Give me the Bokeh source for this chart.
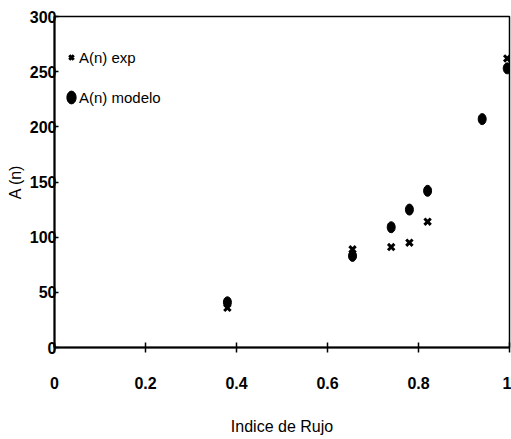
from bokeh.plotting import figure
from bokeh.models import ColumnDataSource, Range1d, FixedTicker, Legend, LegendItem
from bokeh.embed import file_html
from bokeh.resources import INLINE

# Flow index and A(n): experimental vs. model
exp_index = [0.38, 0.655, 0.74, 0.78, 0.82, 0.995]
a_exp = [36, 89, 91, 95, 114, 262]

model_index = [0.38, 0.655, 0.74, 0.78, 0.82, 0.94, 0.995]
a_model = [41, 83, 109, 125, 142, 207, 253]

x_ticks = [0, 0.2, 0.4, 0.6, 0.8, 1]
x_tick_labels = ["0", "0.2", "0.4", "0.6", "0.8", "1"]
y_ticks = [0, 50, 100, 150, 200, 250, 300]

FONT = "Liberation Sans"

p = figure(width=511, height=439, output_backend="svg", toolbar_location=None,
           x_range=Range1d(0, 1), y_range=Range1d(0, 300),
           min_border_left=54, min_border_right=2, min_border_top=16,
           min_border_bottom=92, background_fill_color="white",
           border_fill_color="white")
p.grid.visible = False
p.outline_line_color = "black"
p.outline_line_width = 1.5

exp_src = ColumnDataSource(dict(x=exp_index, y=a_exp))
mod_src = ColumnDataSource(dict(x=model_index, y=a_model))

r_exp = p.scatter("x", "y", source=exp_src, marker="x", size=9,
                  line_color="black", line_width=3)
r_mod = p.ellipse("x", "y", source=mod_src, width=8, height=11,
                  width_units="screen", height_units="screen",
                  fill_color="black", line_color="black")

# axes
for ax in (p.xaxis[0], p.yaxis[0]):
    ax.axis_line_color = "black"
    ax.axis_line_width = 2
    ax.major_tick_line_color = "black"
    ax.major_tick_line_width = 1.5
    ax.minor_tick_line_color = None
    ax.major_label_text_font = FONT
    ax.major_label_text_font_style = "bold"
    ax.major_label_text_font_size = "16px"
    ax.major_label_text_color = "black"
    ax.axis_label_text_font = FONT
    ax.axis_label_text_font_style = "normal"
    ax.axis_label_text_font_size = "16px"
    ax.axis_label_text_color = "black"

p.xaxis.ticker = FixedTicker(ticks=x_ticks)
p.xaxis.major_label_overrides = dict(zip(x_ticks, x_tick_labels))
p.xaxis.major_tick_in = 5
p.xaxis.major_tick_out = 5
p.xaxis.major_label_standoff = 24
p.xaxis.axis_label = "Indice de Rujo"
p.xaxis.axis_label_standoff = 26

p.yaxis.ticker = FixedTicker(ticks=y_ticks)
p.yaxis.major_tick_in = 4
p.yaxis.major_tick_out = 0
p.yaxis.major_label_standoff = -2
p.yaxis.axis_label = "A (n)"
p.yaxis.axis_label_standoff = 3

legend = Legend(items=[LegendItem(label="A(n) exp", renderers=[r_exp]),
                       LegendItem(label="A(n) modelo", renderers=[r_mod])],
                location=(9, 240), orientation="vertical",
                glyph_width=16, glyph_height=20, label_height=20,
                label_standoff=0, spacing=20, padding=0, margin=0,
                border_line_color=None, background_fill_alpha=0,
                label_text_font=FONT, label_text_font_size="15px",
                label_text_color="black")
p.add_layout(legend, "center")

open("out.html", "w").write(file_html(p, INLINE))
